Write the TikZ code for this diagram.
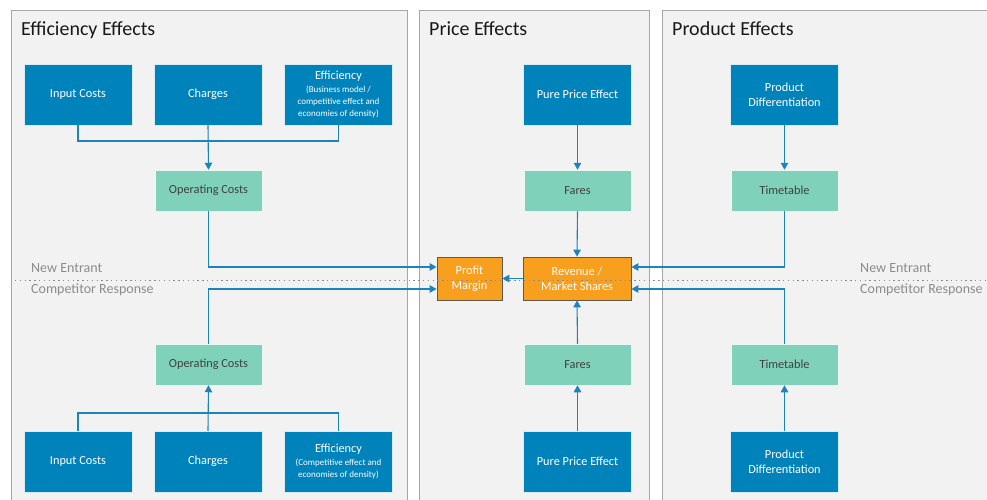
\documentclass[tikz,border=0pt]{standalone}
\usepackage{fontspec}
\setmainfont{Carlito}
\usetikzlibrary{arrows.meta}
\definecolor{panelfill}{HTML}{F2F2F2}
\definecolor{panelline}{HTML}{A6A6A6}
\definecolor{bluebox}{HTML}{0083BB}
\definecolor{greenbox}{HTML}{7FD1B9}
\definecolor{orangebox}{HTML}{F99F1E}
\definecolor{orangeline}{HTML}{5F5A4A}
\definecolor{conn}{HTML}{1C83BD}
\definecolor{labelgray}{HTML}{8C8C8C}
\definecolor{greentext}{HTML}{404040}
\tikzset{
  panel/.style={fill=panelfill, draw=panelline, line width=1pt},
  bluenode/.style={rectangle, fill=bluebox, draw=white!85!bluebox, line width=0.5pt, text=white, minimum width=108pt, minimum height=61pt, align=center, inner sep=0pt, font=\fontsize{12.3}{15}\selectfont},
  greennode/.style={rectangle, fill=greenbox, draw=white!85!greenbox, line width=0.5pt, text=greentext, minimum width=107pt, minimum height=41pt, align=center, inner sep=0pt, font=\fontsize{12.3}{15}\selectfont},
  orangenode/.style={rectangle, fill=orangebox, draw=orangeline, line width=0.8pt, text=white, minimum height=43pt, align=center, inner sep=0pt, font=\fontsize{12.3}{15}\selectfont},
  title/.style={anchor=base west, inner sep=0pt, font=\fontsize{20}{22}\selectfont, text=black!90},
  sidelabel/.style={anchor=west, inner sep=0pt, font=\fontsize{14}{16}\selectfont, text=labelgray},
  conline/.style={draw=conn, line width=1.1pt},
  arr/.style={conline, -{Triangle[length=7pt,width=7.5pt]}}
}
\newcommand{\smalltxt}{\fontsize{9}{11}\selectfont}
\begin{document}
\begin{tikzpicture}[x=1pt,y=-1pt]
\useasboundingbox (0,0) rectangle (987,500);
\clip (0,0) rectangle (987,500);
\fill[white] (0,0) rectangle (987,500);
% panels
\path[panel] (11,11) rectangle (407,520);
\path[panel] (419,11) rectangle (649,520);
\path[panel] (662,11) rectangle (1000,520);
\node[title] (t1) at (21,36) {Efficiency Effects};
\node[title] (t2) at (429,36) {Price Effects};
\node[title] (t3) at (672,36) {Product Effects};
% top row
\node[bluenode] (in1) at (78,94.5) {Input Costs};
\node[bluenode] (ch1) at (208,94.5) {Charges};
\node[bluenode] (ef1) at (338.5,94.5) {Efficiency\\[-2pt]{\smalltxt (Business model /}\\[-3pt]{\smalltxt competitive effect and}\\[-3pt]{\smalltxt economies of density)}};
\node[bluenode] (pp1) at (577.5,94.5) {Pure Price Effect};
\node[bluenode] (pd1) at (784.5,94.5) {Product\\Differentiation};
\node[greennode] (op1) at (208.5,190.5) {Operating Costs};
\node[greennode] (fa1) at (577.5,190.5) {Fares};
\node[greennode] (tt1) at (784.5,190.5) {Timetable};
% centre
\node[orangenode, minimum width=65pt] (pm) at (469.5,278.5) {Profit\\Margin};
\node[orangenode, minimum width=108pt] (rev) at (577,278.5) {Revenue /\\Market Shares};
% bottom row
\node[greennode] (op2) at (208.5,364.5) {Operating Costs};
\node[greennode] (fa2) at (577.5,364.5) {Fares};
\node[greennode] (tt2) at (784.5,364.5) {Timetable};
\node[bluenode] (in2) at (78,461.5) {Input Costs};
\node[bluenode] (ch2) at (208,461.5) {Charges};
\node[bluenode] (ef2) at (338.5,461.5) {Efficiency\\[-2pt]{\smalltxt (Competitive effect and}\\[-3pt]{\smalltxt economies of density)}};
\node[bluenode] (pp2) at (577.5,461.5) {Pure Price Effect};
\node[bluenode] (pd2) at (784.5,461.5) {Product\\Differentiation};
% junctions
\coordinate (j1) at (208,141);
\coordinate (j2) at (208,413);
% connectors top
\draw[conline] (in1.south) |- (j1) -| (ef1.south);
\draw[arr] (ch1.south) -- (op1.north);
\draw[arr] (pp1.south) -- (fa1.north);
\draw[arr] (pd1.south) -- (tt1.north);
\draw[arr] (op1.south) |- ([yshift=11.5pt]pm.west);
\draw[arr] (fa1.south) -- (rev.north);
\draw[arr] (tt1.south) |- ([yshift=11.5pt]rev.east);
\draw[arr] (rev.west) -- (pm.east);
% connectors bottom
\draw[conline] (in2.north) |- (j2) -| (ef2.north);
\draw[arr] (ch2.north) -- (op2.south);
\draw[arr] (pp2.north) -- (fa2.south);
\draw[arr] (pd2.north) -- (tt2.south);
\draw[arr] (op2.north) |- ([yshift=-10.5pt]pm.west);
\draw[arr] (fa2.north) -- (rev.south);
\draw[arr] (tt2.north) |- ([yshift=-10.5pt]rev.east);
% divider
\coordinate (dl) at (15,280);
\coordinate (dr) at (987,280);
\draw[labelgray, line width=1pt, dash pattern=on 1.3pt off 3.5pt] (dl) -- (dr);
\node[sidelabel] (ne1) at (31,268) {New Entrant};
\node[sidelabel] (cr1) at (31,290) {Competitor Response};
\node[sidelabel] (ne2) at (860,268) {New Entrant};
\node[sidelabel] (cr2) at (860,290) {Competitor Response};
\end{tikzpicture}
\end{document}
